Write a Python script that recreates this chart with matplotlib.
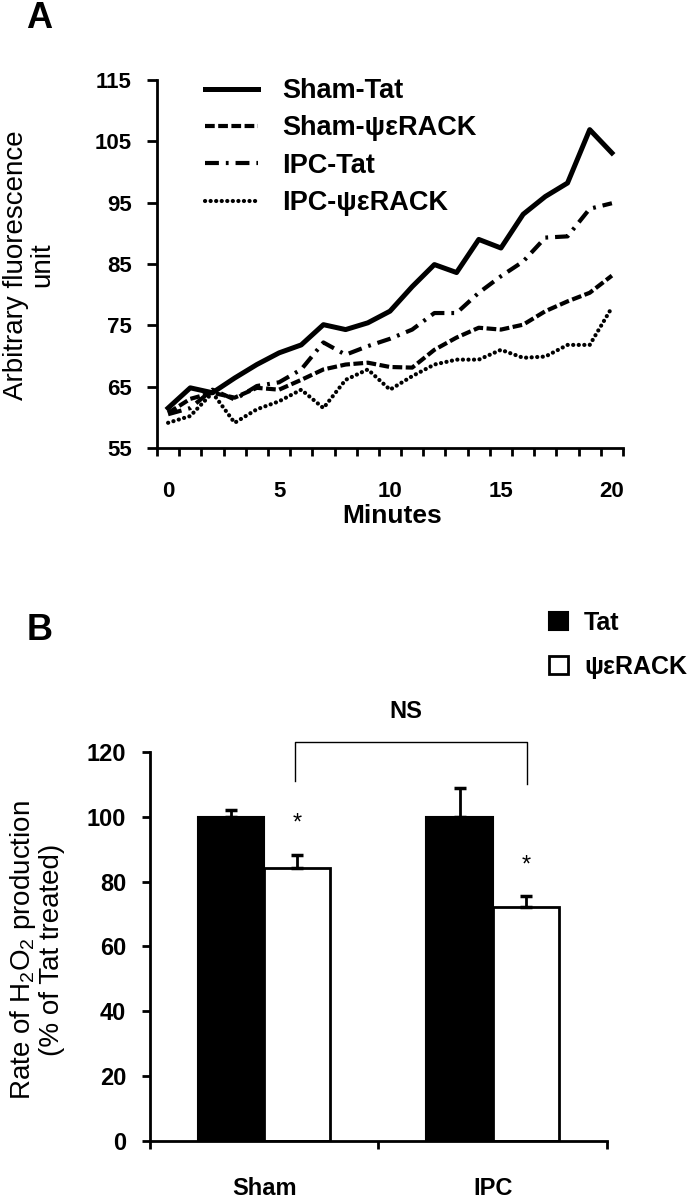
import matplotlib.pyplot as plt
import numpy as np

plt.rcParams['font.family'] = ['Liberation Sans', 'DejaVu Sans']
plt.rcParams['mathtext.default'] = 'regular'
plt.rcParams['lines.scale_dashes'] = False

# panel A data
minutes = list(range(21))
sham_tat = [61.5, 64.8, 64.0, 66.4, 68.6, 70.5, 71.8, 75.1, 74.3, 75.4, 77.3,
            81.3, 84.9, 83.6, 89.0, 87.6, 93.1, 96.0, 98.2, 106.9, 103.1]
sham_rack = [60.7, 63.0, 64.0, 63.2, 64.8, 64.5, 66.1, 67.8, 68.6, 68.9, 68.2,
             68.1, 71.0, 73.0, 74.6, 74.3, 75.1, 77.3, 78.9, 80.3, 83.1]
ipc_tat = [60.5, 61.5, 64.5, 62.9, 65.1, 65.7, 67.8, 72.2, 70.2, 71.6, 72.8,
           74.3, 77.0, 77.0, 80.3, 83.0, 85.4, 89.3, 89.5, 94.0, 94.9]
ipc_rack = [59.1, 60.2, 64.0, 59.1, 61.3, 62.6, 64.5, 61.5, 66.1, 67.8, 64.5,
            66.7, 68.6, 69.4, 69.4, 71.0, 69.7, 69.9, 71.8, 71.8, 77.9]
series_names = ['Sham-Tat', 'Sham-\u03c8\u03b5RACK', 'IPC-Tat', 'IPC-\u03c8\u03b5RACK']

# panel B data
groups = ['Sham', 'IPC']
tat_rate = [100, 100]
tat_err = [2.2, 9.0]
rack_rate = [84.3, 72.2]
rack_err = [4.0, 3.3]

fig = plt.figure(figsize=(6.94, 11.99), dpi=100)

# ---------- panel A ----------
axA = fig.add_axes([0.2262, 0.6264, 0.6715, 0.3069])
lw = 3
axA.plot(minutes, sham_tat, color='black', lw=3.6, label=series_names[0])
axA.plot(minutes, sham_rack, color='black', lw=lw, dashes=(7, 2.5), label=series_names[1])
axA.plot(minutes, ipc_tat, color='black', lw=lw, dashes=(10, 5, 2, 5), label=series_names[2])
axA.plot(minutes, ipc_rack, color='black', lw=lw, dashes=(0.1, 3.9),
         dash_capstyle='round', label=series_names[3])

axA.set_xlim(-0.5, 20.5)
axA.set_ylim(55, 115)
axA.set_yticks(np.arange(55, 116, 10))
axA.set_xticks([0, 5, 10, 15, 20])
axA.set_xticks(np.arange(-0.5, 20.6, 1), minor=True)
axA.tick_params(axis='x', which='major', length=0, pad=24, labelsize=16)
axA.tick_params(axis='x', which='minor', length=6, width=2, direction='out')
axA.tick_params(axis='y', length=7, width=2, pad=11, labelsize=16)
for t in axA.get_xticklabels() + axA.get_yticklabels():
    t.set_fontweight('bold')
for s in ['top', 'right']:
    axA.spines[s].set_visible(False)
for s in ['left', 'bottom']:
    axA.spines[s].set_linewidth(2)

axA.legend(loc='upper left', bbox_to_anchor=(205 / 694, 1 - 78 / 1199),
           bbox_transform=fig.transFigure, frameon=False, borderpad=0,
           borderaxespad=0, handlelength=1.95, handletextpad=0.9,
           labelspacing=0.42, prop={'size': 19.5, 'weight': 'bold'})

fig.text(392 / 694, 1 - 516 / 1199, 'Minutes', ha='center', va='center',
         fontsize=19, fontweight='bold')
fig.text(29 / 694, 1 - 265 / 1199, 'Arbitrary fluorescence\nunit', rotation=90,
         ha='center', va='center', fontsize=20, linespacing=1.0,
         multialignment='center')
fig.text(39 / 694, 1 - 18 / 1199, 'A', ha='center', va='center',
         fontsize=26, fontweight='bold')

# ---------- panel B ----------
axB = fig.add_axes([0.2161, 0.0484, 0.6585, 0.3244])
centers = np.array([0.5, 1.5])
bw = 0.29
b1 = axB.bar(centers - bw / 2, tat_rate, bw, color='black', edgecolor='black',
             lw=1.5, label='Tat')
b2 = axB.bar(centers + bw / 2, rack_rate, bw, color='white', edgecolor='black',
             lw=2, label='\u03c8\u03b5RACK')
axB.errorbar(centers - bw / 2, tat_rate, yerr=[[0, 0], tat_err], fmt='none',
             ecolor='black', elinewidth=2, capsize=4.5, capthick=2.5)
axB.errorbar(centers + bw / 2, rack_rate, yerr=[[0, 0], rack_err], fmt='none',
             ecolor='black', elinewidth=2, capsize=4.5, capthick=2.5)

for c, v, e in zip(centers, rack_rate, rack_err):
    axB.text(c + bw / 2, v + e + 9.5, '*', ha='center', va='center', fontsize=17)

# NS bracket
xl, xr = centers[0] + bw / 2 - 0.01, centers[1] + bw / 2 + 0.005
axB.plot([xl, xl, xr, xr], [111, 123.2, 123.2, 110.2], color='black', lw=1,
         clip_on=False)
axB.text(1.12, 132.5, 'NS', ha='center', va='center', fontsize=17,
         fontweight='bold', clip_on=False)

axB.set_xlim(0, 2)
axB.set_ylim(0, 120)
axB.set_yticks(np.arange(0, 121, 20))
axB.set_xticks(centers)
axB.set_xticklabels(groups)
axB.set_xticks([0, 1, 2], minor=True)
axB.tick_params(axis='x', which='major', length=0, pad=26, labelsize=17)
axB.tick_params(axis='x', which='minor', length=6, width=2, direction='out')
axB.tick_params(axis='y', length=6, width=2, pad=11, labelsize=17)
for t in axB.get_xticklabels() + axB.get_yticklabels():
    t.set_fontweight('bold')
for s in ['top', 'right']:
    axB.spines[s].set_visible(False)
for s in ['left', 'bottom']:
    axB.spines[s].set_linewidth(2)

axB.legend(handles=[b1, b2], loc='upper left',
           bbox_to_anchor=(549 / 694, 1 - 611 / 1199),
           bbox_transform=fig.transFigure, frameon=False, borderpad=0,
           borderaxespad=0, handlelength=0.75, handleheight=0.75,
           handletextpad=0.65, labelspacing=0.8,
           prop={'size': 18, 'weight': 'bold'})

fig.text(37 / 694, 1 - 950 / 1199,
         'Rate of H$_2$O$_2$ production\n(% of Tat treated)', rotation=90,
         ha='center', va='center', fontsize=20, linespacing=1.05,
         multialignment='center')
fig.text(40 / 694, 1 - 630 / 1199, 'B', ha='center', va='center',
         fontsize=26, fontweight='bold')

fig.savefig('out.png', dpi=100)
